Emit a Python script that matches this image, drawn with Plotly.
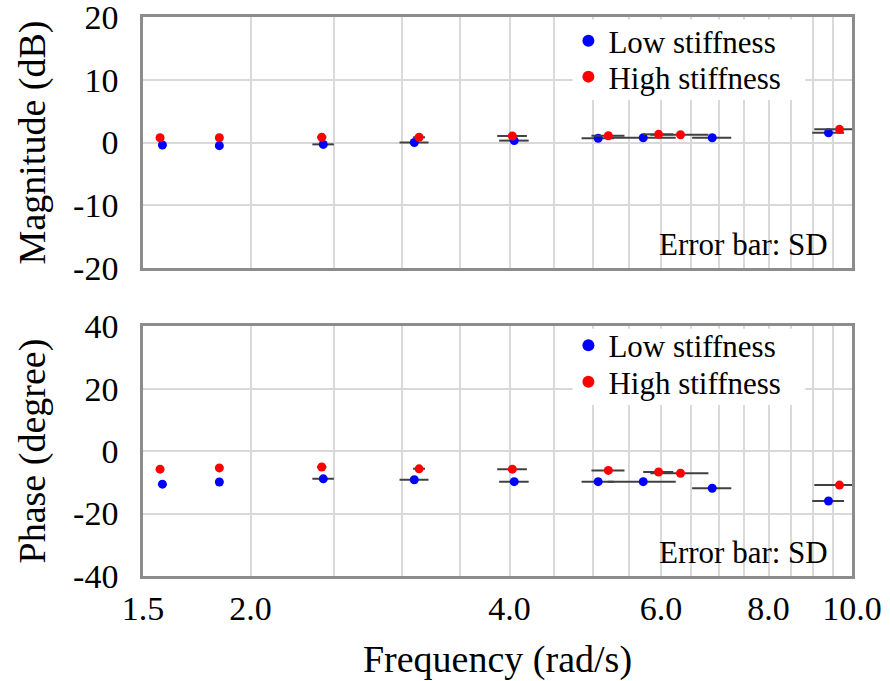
import plotly.graph_objects as go
import math

# ---------------- data ----------------
freq_low = [1.58, 1.84, 2.43, 3.10, 4.05, 5.07, 5.72, 6.88, 9.39]
freq_high = [1.57, 1.84, 2.42, 3.14, 4.03, 5.21, 5.96, 6.32, 9.67]
sd_freq_low = [0.0, 0.0, 0.07, 0.12, 0.16, 0.22, 0.52, 0.36, 0.40]
sd_freq_high = [0.0, 0.0, 0.03, 0.05, 0.16, 0.23, 0.24, 0.49, 0.63]
mag_low = [-0.4, -0.5, -0.3, 0.0, 0.3, 0.67, 0.76, 0.76, 1.56]
mag_high = [0.76, 0.76, 0.83, 0.83, 1.04, 1.08, 1.30, 1.24, 2.10]
phase_low = [-10.6, -9.9, -8.9, -9.2, -9.8, -9.8, -9.8, -11.9, -16.0]
phase_high = [-5.8, -5.4, -5.1, -5.7, -5.8, -6.2, -6.7, -7.1, -10.9]

x_tick_vals = [1.5, 2.0, 2.5, 3.0, 3.5, 4.0, 4.5, 5.0, 5.5, 6.0, 6.5, 7.0, 7.5, 8.0, 8.5, 9.0, 9.5, 10.0]
x_tick_text = ["1.5", "2.0", "", "", "", "4.0", "", "", "", "6.0", "", "", "", "8.0", "", "", "", "10.0"]
mag_ticks = [-20, -10, 0, 10, 20]
mag_tick_text = ["-20", "-10", "0", "10", "20"]
phase_ticks = [-40, -20, 0, 20, 40]
phase_tick_text = ["-40", "-20", "0", "20", "40"]

series_names = ["Low stiffness", "High stiffness"]
series_colors = ["#0000ff", "#ff0000"]

FONT = "Liberation Serif"
FRAME = "#8c8c8c"
GRID = "#d9d9d9"

fig = go.Figure()

def add_series(xs, sds, ys, name, color, xa, ya, legend):
    fig.add_trace(go.Scatter(
        x=xs, y=ys, mode="markers", name=name,
        marker=dict(color=color, size=9),
        error_x=dict(type="data", array=sds, visible=True, color="#404040",
                     thickness=2, width=0),
        xaxis=xa, yaxis=ya, legend=legend, showlegend=True,
    ))

add_series(freq_low, sd_freq_low, mag_low, series_names[0], series_colors[0], "x", "y", "legend")
add_series(freq_high, sd_freq_high, mag_high, series_names[1], series_colors[1], "x", "y", "legend2")
add_series(freq_low, sd_freq_low, phase_low, series_names[0], series_colors[0], "x2", "y2", "legend3")
add_series(freq_high, sd_freq_high, phase_high, series_names[1], series_colors[1], "x2", "y2", "legend4")

xcommon = dict(
    type="log", range=[math.log10(1.5), 1.0],
    tickmode="array", tickvals=x_tick_vals, ticktext=x_tick_text,
    showgrid=True, gridcolor=GRID, gridwidth=1.5,
    showline=True, mirror=True, linecolor=FRAME, linewidth=2.5,
    ticks="", zeroline=False, automargin=False, ticklabeloverflow="allow",
    tickfont=dict(family=FONT, size=34, color="black"),
)
ycommon = dict(
    tickmode="array",
    showgrid=True, gridcolor=GRID, gridwidth=1.5,
    showline=True, mirror=True, linecolor=FRAME, linewidth=2.5,
    ticks="", zeroline=False, ticklabelstandoff=15, automargin=False,
    ticklabeloverflow="allow",
    tickfont=dict(family=FONT, size=34, color="black"),
)

legend_common = dict(
    bgcolor="rgba(0,0,0,0)", borderwidth=0, xanchor="left", yanchor="middle",
    font=dict(family=FONT, size=31, color="black"),
    itemsizing="constant", x=0.6,
)

fig.update_layout(
    width=890, height=681,
    margin=dict(l=143, r=38, t=17, b=105, autoexpand=False),
    paper_bgcolor="white", plot_bgcolor="white",
    font=dict(family=FONT, color="black"),
    xaxis=dict(xcommon, domain=[0, 1], anchor="y", showticklabels=False),
    yaxis=dict(ycommon, domain=[0.551, 1.0], range=[-20, 20],
               tickvals=mag_ticks, ticktext=mag_tick_text,
               title=dict(text="Magnitude (dB)", font=dict(family=FONT, size=38), standoff=16)),
    xaxis2=dict(xcommon, domain=[0, 1], anchor="y2", ticklabelstandoff=0,
                title=dict(text="Frequency (rad/s)", font=dict(family=FONT, size=38), standoff=20)),
    yaxis2=dict(ycommon, domain=[0.0, 0.447], range=[-40, 40],
                tickvals=phase_ticks, ticktext=phase_tick_text,
                title=dict(text="Phase (degree)", font=dict(family=FONT, size=38), standoff=16)),
    legend=dict(legend_common, y=0.957),
    legend2=dict(legend_common, y=0.8927),
    legend3=dict(legend_common, y=0.412),
    legend4=dict(legend_common, y=0.3470),
    showlegend=True,
)

# white backing boxes behind the legends (hide the grid there, like the reference)
for xa, ya, y0 in [("x", "y", 0.669), ("x2", "y2", 0.684)]:
    fig.add_shape(type="rect", xref=xa + " domain", yref=ya + " domain",
                  x0=0.606, x1=0.934, y0=y0, y1=0.99,
                  fillcolor="white", line=dict(width=0), layer="above")

for ya in ["y", "y2"]:
    fig.add_annotation(
        text="Error bar: SD", xref="x domain" if ya == "y" else "x2 domain",
        yref=ya + " domain", x=0.969, y=0.094, xanchor="right", yanchor="middle",
        showarrow=False, font=dict(family=FONT, size=31, color="black"),
    )

fig.write_html("out.html")
